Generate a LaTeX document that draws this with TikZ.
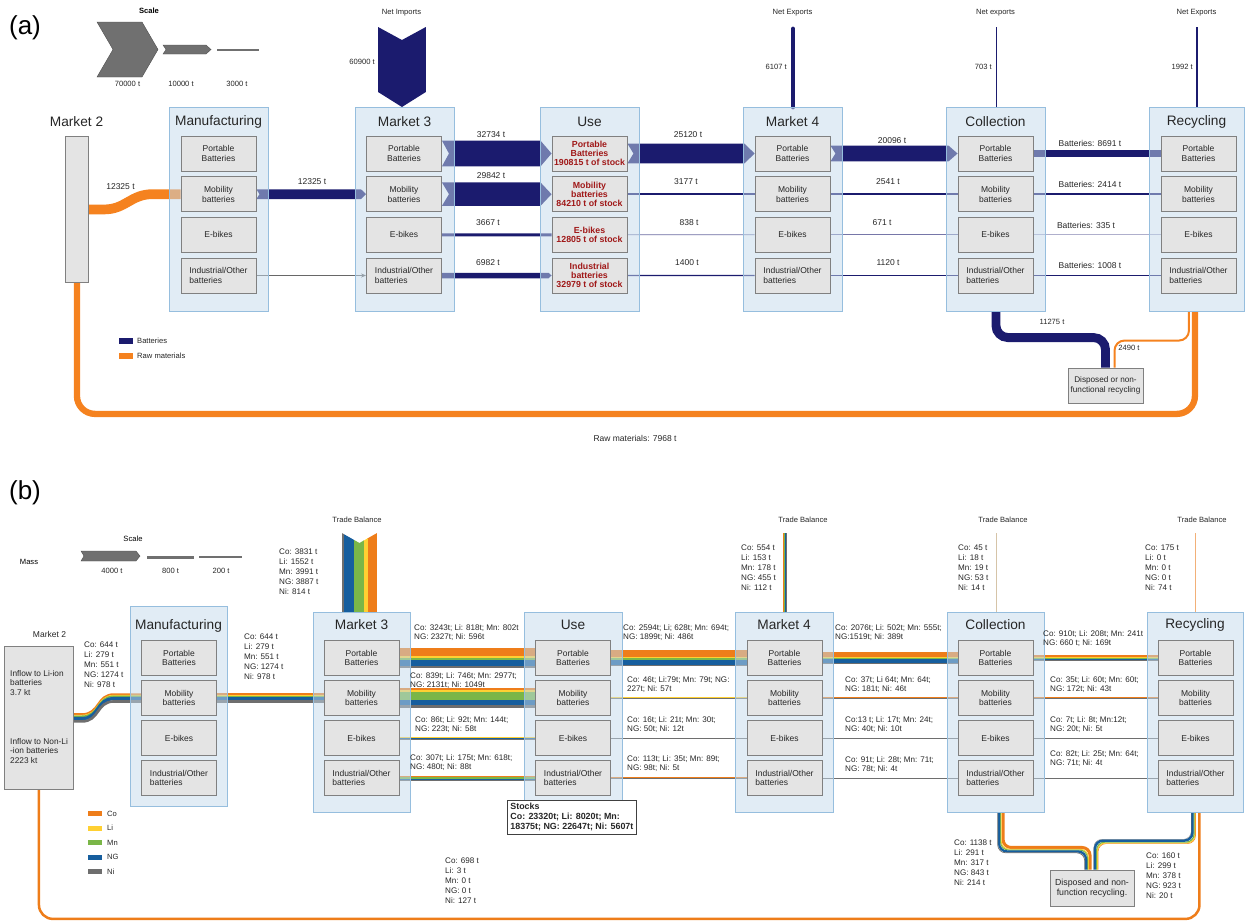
\documentclass[tikz,border=0pt]{standalone}
\usepackage{fontspec}
\setmainfont{Liberation Sans}
\usetikzlibrary{calc,arrows.meta}
\definecolor{navyA}{RGB}{27,27,110}
\definecolor{orA}{RGB}{245,130,31}
\definecolor{cCo}{RGB}{238,125,26}
\definecolor{cLi}{RGB}{255,208,50}
\definecolor{cMn}{RGB}{122,182,72}
\definecolor{cNG}{RGB}{22,94,158}
\definecolor{cNi}{RGB}{110,110,110}
\definecolor{contF}{RGB}{196,218,236}
\definecolor{contB}{RGB}{150,190,222}
\definecolor{boxF}{RGB}{228,228,228}
\definecolor{boxB}{RGB}{128,128,128}
\definecolor{txt}{RGB}{38,38,38}
\definecolor{stockred}{RGB}{160,24,24}
\definecolor{scaleg}{RGB}{112,112,112}
\definecolor{tbtan}{RGB}{214,196,168}
\definecolor{tbor}{RGB}{242,176,120}
\pgfdeclarelayer{flowL}\pgfdeclarelayer{contL}
\pgfsetlayers{flowL,contL,main}
\newcommand\fsA{\fontsize{8.5pt}{9.6pt}\selectfont}
\newcommand\fsB{\fontsize{8.1pt}{9.8pt}\selectfont}
\newcommand\fsH{\fontsize{13.7pt}{15pt}\selectfont}
\newcommand\fsP{\fontsize{26pt}{28pt}\selectfont}
\newcommand\fsS{\fontsize{7.6pt}{9pt}\selectfont}
\newcommand\fsK{\fontsize{8.8pt}{9.3pt}\selectfont\bfseries}
\newcommand\fsD{\fontsize{8.2pt}{9.6pt}\selectfont}
\newcommand\fsE{\fontsize{8.8pt}{10pt}\selectfont}
\newcommand\fsM{\fontsize{8.3pt}{9.7pt}\selectfont}
\tikzset{
 cont/.style={draw=contB, fill=contF, fill opacity=0.5, line width=0.9pt, anchor=north west, inner sep=0},
 ibox/.style={draw=boxB, fill=boxF, line width=0.9pt, minimum width=75pt, minimum height=35pt, inner sep=1pt, font=\fsA, align=center, text=txt},
 ttl/.style={font=\fsH, text=black!85, inner sep=0},
 lblA/.style={font=\fsA, text=txt, inner sep=0},
 lblB/.style={font=\fsB, text=txt, inner sep=0, align=left, anchor=north west},
 stk/.style={ibox, text=stockred, font=\fsK},
 swatch/.style={minimum width=14pt, minimum height=6pt, inner sep=0},
}
\newcommand\mkcont[5]{\begin{pgfonlayer}{contL}\node[cont,minimum width=#4pt,minimum height=#5pt] (#1) at (#2,#3) {};\end{pgfonlayer}}
\newcommand\stdcol[4]{%
 \node[ibox] (#1p) at (#2,#3) {Portable\\Batteries};
 \node[ibox] (#1m) at (#2,{#3+#4}) {Mobility\\batteries};
 \node[ibox] (#1e) at (#2,{#3+2*#4}) {E-bikes};
 \node[ibox,align=left] (#1i) at (#2,{#3+3*#4}) {Industrial/Other\\batteries};}
\newcommand\mkband[6]{%
 \pgfmathsetmacro\bwA{#2/400}\pgfmathsetmacro\bwB{#3/400}\pgfmathsetmacro\bwC{#4/400}%
 \pgfmathsetmacro\bwD{#5/400}\pgfmathsetmacro\bwE{#6/400}%
 \pgfmathsetmacro\boA{-(\bwA+\bwB+\bwC+\bwD+\bwE)/2+\bwA/2}%
 \pgfmathsetmacro\boB{\boA+\bwA/2+\bwB/2}%
 \pgfmathsetmacro\boC{\boB+\bwB/2+\bwC/2}%
 \pgfmathsetmacro\boD{\boC+\bwC/2+\bwD/2}%
 \pgfmathsetmacro\boE{\boD+\bwD/2+\bwE/2}%
 #1{cCo}{\bwA}{\boA}#1{cLi}{\bwB}{\boB}#1{cMn}{\bwC}{\boC}#1{cNG}{\bwD}{\boD}#1{cNi}{\bwE}{\boE}}
\newcommand\hstripe[5]{\draw[#3,line width=#4pt+0.2pt] ($(#1)+(0,#5)$) -- ($(#2)+(0,#5)$);}
\newcommand\sstripe[5]{\draw[#3,line width=#4pt+0.2pt] ($(#1)+(0,#5)$) -- ++(8,0) .. controls +(18,0) and +(-18,0) .. ($(#2)+(-27,#5)$) -- ($(#2)+(0,#5)$);}
\newcommand\cdstripe[5]{\draw[#3,line width=#4pt+0.2pt,rounded corners=8pt] ($(#1)+({-(#5)},0)$) |- ($(#2)+({-4-(#5)},{-20+(#5)})$) -- ($(#2)+({-4-(#5)},0)$);}
\newcommand\rdstripe[5]{\draw[#3,line width=#4pt+0.2pt,rounded corners=8pt] ($(#1)+({-(#5)},0)$) |- ($(#2)+({4-(#5)},{-28-(#5)})$) -- ($(#2)+({4-(#5)},0)$);}
\newcommand\vustripe[5]{\draw[#3,line width=#4pt+0.2pt] ($(#1)+(#5,0)$) -- ($(#2)+(#5,0)$);}
\newcommand\vdstripe[5]{\draw[#3,line width=#4pt+0.2pt] ($(#1)+({-(#5)},0)$) -- ($(#2)+({-(#5)},0)$);}
\newcommand\chev[5]{\fill[navyA] ($(#1)+(0,-#3)$) -- ($(#2)+(-#5,-#3)$) -- (#2) -- ($(#2)+(-#5,#3)$) -- ($(#1)+(0,#3)$) -- ($(#1)+(#4,0)$) -- cycle;}
\begin{document}
\begin{tikzpicture}[x=1pt,y=-1pt]
\useasboundingbox (0,0) rectangle (1245,922);
% ================= PART (a) =================
\node[font=\fsP, inner sep=0] at (25,28) {(a)};
\node[font=\fsS\bfseries, inner sep=0] at (149,11) {Scale};
\fill[scaleg, draw=scaleg!70!black] (97,22) -- (142,22) -- (158,49.5) -- (142,77) -- (97,77) -- (113,49.5) -- cycle;
\fill[scaleg, draw=scaleg!70!black] (163,45) -- (206,45) -- (211,49.5) -- (206,54) -- (163,54) -- (166,49.5) -- cycle;
\draw[scaleg, line width=2.4pt] (217,50) -- (259,50);
\node[lblA, font=\fsS] at (127.5,84) {70000 t};
\node[lblA, font=\fsS] at (181,84) {10000 t};
\node[lblA, font=\fsS] at (237,84) {3000 t};
% containers
\mkcont{mfgA}{169}{107}{99}{204}
\mkcont{m3A}{355}{107}{99}{204}
\mkcont{useA}{540}{107}{99}{204}
\mkcont{m4A}{743}{107}{99}{204}
\mkcont{colA}{946}{107}{99}{204}
\mkcont{recA}{1149}{107}{95}{204}
\node[ttl] at (76.5,122) {Market 2};
\node[ttl] at (218.5,122) {Manufacturing};
\node[ttl] at (404.5,122) {Market 3};
\node[ttl] at (589.5,122) {Use};
\node[ttl] at (792.5,122) {Market 4};
\node[ttl] at (995.5,122) {Collection};
\node[ttl] at (1196.5,122) {Recycling};
\node[draw=boxB, fill=boxF, line width=0.9pt, anchor=north west, minimum width=23pt, minimum height=146pt, inner sep=0] (m2A) at (65,136) {};
\stdcol{mfgA}{218.5}{153.5}{40.67}
\stdcol{m3A}{404}{153.5}{40.67}
\node[stk] (useAp) at (589.5,153.5) {Portable\\Batteries\\190815 t of stock};
\node[stk] (useAm) at (589.5,194.17) {Mobility\\batteries\\84210 t of stock};
\node[stk] (useAe) at (589.5,234.83) {E-bikes\\12805 t of stock};
\node[stk] (useAi) at (589.5,275.5) {Industrial\\batteries\\32979 t of stock};
\stdcol{m4A}{792.5}{153.5}{40.67}
\stdcol{colA}{995.5}{153.5}{40.67}
\stdcol{recA}{1198.5}{153.5}{40.67}
\node[ibox, font=\fsD] (dispA) at (1105.5,385.5) {Disposed or non-\\functional recycling};
% flows (a)
\begin{pgfonlayer}{flowL}
\draw[orA, line width=9.7pt] (m2A.east) -- ++(15,0) .. controls +(22,0) and +(-22,0) .. ($(mfgAm.west)+(-28,0)$) -- (mfgAm.west);
\draw[orA, line width=6.3pt, rounded corners=18pt] (m2A.south) |- ($(recA.south)+(-2,102)$) -- ($(recA.south)+(-2,0)$);
\chev{mfgAm.east}{m3Am.west}{4.85}{3}{5}
\draw[boxB!80!black, line width=0.7pt, -{Stealth[length=5pt,width=4pt]}] (mfgAi.east) -- (m3Ai.west);
\chev{m3Ap.east}{useAp.west}{12.85}{7}{11}
\chev{m3Am.east}{useAm.west}{11.7}{7}{11}
\draw[navyA, line width=2.9pt] (m3Ae.east) -- (useAe.west);
\chev{m3Ai.east}{useAi.west}{2.75}{0}{3}
\chev{useAp.east}{m4Ap.west}{9.85}{6}{10}
\draw[navyA, line width=2.5pt] (useAm.east) -- (m4Am.west);
\draw[navyA!65, line width=0.8pt] (useAe.east) -- (m4Ae.west);
\draw[navyA, line width=1.1pt] (useAi.east) -- (m4Ai.west);
\chev{m4Ap.east}{colAp.west}{7.9}{5}{9}
\draw[navyA, line width=2pt] (m4Am.east) -- (colAm.west);
\draw[navyA!60, line width=0.7pt] (m4Ae.east) -- (colAe.west);
\draw[navyA, line width=0.9pt] (m4Ai.east) -- (colAi.west);
\draw[navyA, line width=6.8pt] (colAp.east) -- (recAp.west);
\draw[navyA, line width=1.9pt] (colAm.east) -- (recAm.west);
\draw[navyA!35, line width=0.7pt] (colAe.east) -- (recAe.west);
\draw[navyA, line width=0.8pt] (colAi.east) -- (recAi.west);
\coordinate (ni) at ($(m3A.north)+(-3,0)$);
\fill[navyA] ($(ni)+(-23.9,-80)$) -- ($(ni)+(0,-67)$) -- ($(ni)+(23.9,-80)$) -- ($(ni)+(23.9,-15)$) -- (ni) -- ($(ni)+(-23.9,-15)$) -- cycle;
\coordinate (ne4) at ($(m4A.north)+(0,-78)$);
\coordinate (nec) at ($(colA.north)+(0,-80)$);
\coordinate (ner) at ($(recA.north)+(0,-80)$);
\draw[navyA, line width=4.8pt, line cap=round] (m4A.north) -- (ne4);
\draw[navyA, line width=0.6pt] (colA.north) -- (nec);
\draw[navyA, line width=1.6pt] (recA.north) -- (ner);
\draw[navyA, line width=8.9pt, rounded corners=12pt] (colA.south) |- ($(dispA.north)+(0,-30)$) -- (dispA.north);
\draw[orA, line width=2pt, rounded corners=10pt] ($(recA.south)+(-8,0)$) |- ($(dispA.north)+(9,-27)$) -- ($(dispA.north)+(9,0)$);
\end{pgfonlayer}
% labels (a)
\node[lblA, font=\fsS] at (401.5,13) {Net Imports};
\node[lblA, font=\fsS] at (792.5,13) {Net Exports};
\node[lblA, font=\fsS] at (995.5,13) {Net exports};
\node[lblA, font=\fsS] at (1196.5,13) {Net Exports};
\node[lblA, font=\fsS, anchor=east] at (375,62) {60900 t};
\node[lblA, font=\fsS, anchor=east] at (787,67) {6107 t};
\node[lblA, font=\fsS, anchor=east] at (992,67) {703 t};
\node[lblA, font=\fsS, anchor=east] at (1193,67) {1992 t};
\node[lblA] at (120.5,187) {12325 t};
\node[lblA] at (312,182) {12325 t};
\node[lblA] at (491,135) {32734 t};
\node[lblA] at (491,176) {29842 t};
\node[lblA] at (488,223) {3667 t};
\node[lblA] at (488,263) {6982 t};
\node[lblA] at (688,135) {25120 t};
\node[lblA] at (686,182) {3177 t};
\node[lblA] at (689,223) {838 t};
\node[lblA] at (687,263) {1400 t};
\node[lblA] at (892,141) {20096 t};
\node[lblA] at (888,182) {2541 t};
\node[lblA] at (882,223) {671 t};
\node[lblA] at (888,263) {1120 t};
\node[lblA] at (1090,143) {Batteries: 8691 t};
\node[lblA] at (1090,184) {Batteries: 2414 t};
\node[lblA] at (1086,225) {Batteries: 335 t};
\node[lblA] at (1090,265) {Batteries: 1008 t};
\node[lblA, font=\fsS] at (1052,322) {11275 t};
\node[lblA, font=\fsS] at (1129,348) {2490 t};
\node[lblA] at (635,438) {Raw materials: 7968 t};
\node[swatch, fill=navyA] (lgBat) at (126,341) {};
\node[lblA, font=\fsS, anchor=west] at (137,341) {Batteries};
\node[swatch, fill=orA] (lgRaw) at (126,356) {};
\node[lblA, font=\fsS, anchor=west] at (137,356) {Raw materials};
% ================= PART (b) =================
\node[font=\fsP, inner sep=0] at (25,493) {(b)};
\node[font=\fsS, inner sep=0] at (133,539) {Scale};
\node[font=\fsS, inner sep=0] at (29,562) {Mass};
\fill[scaleg, draw=scaleg!70!black] (81,551) -- (136,551) -- (140,556) -- (136,561) -- (81,561) -- (84,556) -- cycle;
\draw[scaleg, line width=3pt] (147,557) -- (194,557);
\draw[scaleg, line width=1.2pt] (199,557) -- (242,557);
\node[lblA, font=\fsS] at (112,571) {4000 t};
\node[lblA, font=\fsS] at (170.5,571) {800 t};
\node[lblA, font=\fsS] at (221,571) {200 t};
\mkcont{mfgB}{130}{606}{97}{200}
\mkcont{m3B}{313}{612}{97}{200}
\mkcont{useB}{524}{612}{98}{200}
\mkcont{m4B}{735}{612}{98}{200}
\mkcont{colB}{947}{612}{97}{200}
\mkcont{recB}{1147}{612}{96}{200}
\node[ttl] at (178.5,626) {Manufacturing};
\node[ttl] at (361.5,625) {Market 3};
\node[ttl] at (573,625) {Use};
\node[ttl] at (784,625) {Market 4};
\node[ttl] at (995.5,625) {Collection};
\node[ttl] at (1195,625) {Recycling};
\stdcol{mfgB}{179}{658}{40}
\stdcol{m3B}{361.5}{658}{40}
\stdcol{useB}{573}{658}{40}
\stdcol{m4B}{784.5}{658}{40}
\stdcol{colB}{995.5}{658}{40}
\stdcol{recB}{1195.5}{658}{40}
\node[lblA] at (49.5,634) {Market 2};
\node[draw=boxB, fill=boxF, line width=0.9pt, anchor=north west, minimum width=69pt, minimum height=143pt, inner sep=0] (m2B) at (4,646) {};
\node[lblB, font=\fsM] at (10,670) {Inflow to Li-ion\\batteries\\3.7 kt};
\node[lblB, font=\fsM] at (10,738) {Inflow to Non-Li\\-ion batteries\\2223 kt};
\node[ibox, minimum width=84pt, minimum height=36pt, font=\fsE] (dispB) at (1092,888) {Disposed and non-\\function recycling.};
\node[draw=black!75, fill=white, line width=0.8pt, anchor=north west, inner sep=3pt, align=left, font=\fontsize{8.9pt}{9.9pt}\selectfont\bfseries, text=black!85] (stk) at (507,800) {Stocks\\Co: 23320t; Li: 8020t; Mn:\\18375t; NG: 22647t; Ni: 5607t};
% flows (b)
\begin{pgfonlayer}{flowL}
\mkband{\sstripe{m2B.east}{mfgBm.west}}{644}{279}{551}{1274}{978}
\mkband{\hstripe{mfgBm.east}{m3Bm.west}}{644}{279}{551}{1274}{978}
\mkband{\hstripe{m3Bp.east}{useBp.west}}{3243}{818}{802}{2327}{596}
\mkband{\hstripe{m3Bm.east}{useBm.west}}{839}{746}{2977}{2131}{1049}
\mkband{\hstripe{m3Be.east}{useBe.west}}{86}{92}{144}{223}{58}
\mkband{\hstripe{m3Bi.east}{useBi.west}}{307}{175}{618}{480}{88}
\mkband{\hstripe{useBp.east}{m4Bp.west}}{2594}{628}{694}{1899}{486}
\mkband{\hstripe{useBm.east}{m4Bm.west}}{46}{79}{79}{227}{57}
\mkband{\hstripe{useBe.east}{m4Be.west}}{16}{21}{30}{50}{12}
\mkband{\hstripe{useBi.east}{m4Bi.west}}{113}{35}{89}{98}{5}
\mkband{\hstripe{m4Bp.east}{colBp.west}}{2076}{502}{555}{1519}{389}
\mkband{\hstripe{m4Bm.east}{colBm.west}}{37}{64}{64}{181}{46}
\mkband{\hstripe{m4Be.east}{colBe.west}}{13}{17}{24}{40}{10}
\mkband{\hstripe{m4Bi.east}{colBi.west}}{91}{28}{71}{78}{4}
\mkband{\hstripe{colBp.east}{recBp.west}}{910}{208}{241}{660}{169}
\mkband{\hstripe{colBm.east}{recBm.west}}{35}{60}{60}{172}{43}
\mkband{\hstripe{colBe.east}{recBe.west}}{7}{8}{12}{20}{5}
\mkband{\hstripe{colBi.east}{recBi.west}}{82}{25}{64}{71}{4}
\draw[cCo, line width=2.5pt, rounded corners=14pt] (m2B.south) |- ($(recB.south)+(4,106)$) -- ($(recB.south)+(4,0)$);
\coordinate (tb3) at ($(m3B.north)+(-2.5,-79)$);
\coordinate (tb3b) at (tb3 |- m3B.north);
\begin{scope}
\clip ($(tb3)+(-17.6,0)$) -- ($(tb3)+(0,10)$) -- ($(tb3)+(17.6,0)$) -- ($(tb3b)+(17.6,0)$) -- ($(tb3b)+(-17.6,0)$) -- cycle;
\mkband{\vdstripe{tb3}{tb3b}}{3831}{1552}{3991}{3887}{814}
\end{scope}
\coordinate (tb4) at ($(m4B.north)+(0,-79)$);
\mkband{\vustripe{m4B.north}{tb4}}{554}{153}{178}{455}{112}
\coordinate (tbc) at ($(colB.north)+(0,-79)$);
\draw[tbtan, line width=0.9pt] (colB.north) -- (tbc);
\coordinate (tbr) at ($(recB.north)+(0,-79)$);
\draw[tbor, line width=1pt] (recB.north) -- (tbr);
\coordinate (colBo) at ($(colB.south)+(5,0)$);
\mkband{\cdstripe{colBo}{dispB.north}}{1138}{291}{317}{843}{214}
\coordinate (recBo) at ($(recB.south)+(-2,0)$);
\mkband{\rdstripe{recBo}{dispB.north}}{160}{299}{378}{923}{20}
\end{pgfonlayer}
% labels (b)
\node[lblB, font=\fsS, anchor=center] at (357,520) {Trade Balance};
\node[lblB, font=\fsS, anchor=center] at (803,520) {Trade Balance};
\node[lblB, font=\fsS, anchor=center] at (1003,520) {Trade Balance};
\node[lblB, font=\fsS, anchor=center] at (1202,520) {Trade Balance};
\node[lblB] at (84,642) {Co: 644 t\\Li: 279 t\\Mn: 551 t\\NG: 1274 t\\Ni: 978 t};
\node[lblB] at (244,634) {Co: 644 t\\Li: 279 t\\Mn: 551 t\\NG: 1274 t\\Ni: 978 t};
\node[lblB] at (279,549) {Co: 3831 t\\Li: 1552 t\\Mn: 3991 t\\NG: 3887 t\\Ni: 814 t};
\node[lblB] at (414,624) {Co: 3243t; Li: 818t; Mn: 802t\\NG: 2327t; Ni: 596t};
\node[lblB] at (410,672) {Co: 839t; Li: 746t; Mn: 2977t;\\NG: 2131t; Ni: 1049t};
\node[lblB] at (415,716) {Co: 86t; Li: 92t; Mn: 144t;\\NG: 223t; Ni: 58t};
\node[lblB] at (410,754) {Co: 307t; Li: 175t; Mn: 618t;\\NG: 480t; Ni: 88t};
\node[lblB] at (623,624) {Co: 2594t; Li; 628t; Mn: 694t;\\NG: 1899t; Ni: 486t};
\node[lblB] at (627,676) {Co: 46t; Li:79t; Mn: 79t; NG:\\227t; Ni: 57t};
\node[lblB] at (627,716) {Co: 16t; Li: 21t; Mn: 30t;\\NG: 50t; Ni: 12t};
\node[lblB] at (627,755) {Co: 113t; Li: 35t; Mn: 89t;\\NG: 98t; Ni: 5t};
\node[lblB] at (741,545) {Co: 554 t\\Li: 153 t\\Mn: 178 t\\NG: 455 t\\Ni: 112 t};
\node[lblB] at (835,624) {Co: 2076t; Li: 502t; Mn: 555t;\\NG:1519t; Ni: 389t};
\node[lblB] at (845,676) {Co: 37t; Li 64t; Mn: 64t;\\NG: 181t; Ni: 46t};
\node[lblB] at (845,716) {Co:13 t; Li: 17t; Mn: 24t;\\NG: 40t; Ni: 10t};
\node[lblB] at (845,756) {Co: 91t; Li: 28t; Mn: 71t;\\NG: 78t; Ni: 4t};
\node[lblB] at (958,545) {Co: 45 t\\Li: 18 t\\Mn: 19 t\\NG: 53 t\\Ni: 14 t};
\node[lblB] at (1043,630) {Co: 910t; Li: 208t; Mn: 241t\\NG: 660 t; Ni: 169t};
\node[lblB] at (1050,676) {Co: 35t; Li: 60t; Mn: 60t;\\NG: 172t; Ni: 43t};
\node[lblB] at (1050,716) {Co: 7t; Li: 8t; Mn:12t;\\NG: 20t; Ni: 5t};
\node[lblB] at (1050,750) {Co: 82t; Li: 25t; Mn: 64t;\\NG: 71t; Ni: 4t};
\node[lblB] at (1145,545) {Co: 175 t\\Li: 0 t\\Mn: 0 t\\NG: 0 t\\Ni: 74 t};
\node[lblB] at (954,840) {Co: 1138 t\\Li: 291 t\\Mn: 317 t\\NG: 843 t\\Ni: 214 t};
\node[lblB] at (1146,853) {Co: 160 t\\Li: 299 t\\Mn: 378 t\\NG: 923 t\\Ni: 20 t};
\node[lblB] at (445,858) {Co: 698 t\\Li: 3 t\\Mn: 0 t\\NG: 0 t\\Ni: 127 t};
% legend (b)
\node[swatch, minimum height=5pt, fill=cCo] (lgCo) at (94.5,813.5) {};
\node[swatch, minimum height=5pt, fill=cLi] (lgLi) at (94.5,828) {};
\node[swatch, minimum height=5pt, fill=cMn] (lgMn) at (94.5,842.5) {};
\node[swatch, minimum height=5pt, fill=cNG] (lgNG) at (94.5,857) {};
\node[swatch, minimum height=5pt, fill=cNi] (lgNi) at (94.5,871.5) {};
\node[lblA, font=\fsS, anchor=west] at (107,813.5) {Co};
\node[lblA, font=\fsS, anchor=west] at (107,828) {Li};
\node[lblA, font=\fsS, anchor=west] at (107,842.5) {Mn};
\node[lblA, font=\fsS, anchor=west] at (107,857) {NG};
\node[lblA, font=\fsS, anchor=west] at (107,871.5) {Ni};
\end{tikzpicture}
\end{document}
